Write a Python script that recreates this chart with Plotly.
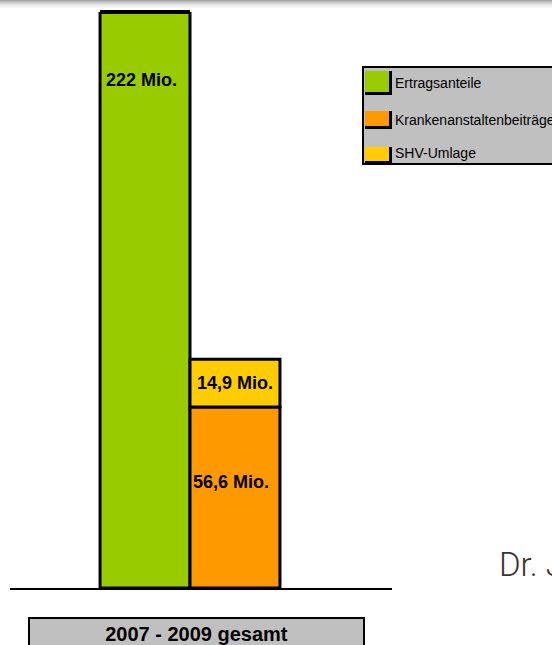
import plotly.graph_objects as go

categories = ["2007 - 2009 gesamt"]
series_names = ["Ertragsanteile", "Krankenanstaltenbeiträge", "SHV-Umlage"]
ertragsanteile = [222.0]
krankenanstalten = [56.6]
shv_umlage = [14.9]
labels_ertrag = ["222 Mio."]
labels_kranken = ["56,6 Mio."]
labels_shv = ["14,9 Mio."]
footer_text = "Dr. J"

colors = ["#99cc00", "#ff9900", "#ffcc00"]
W, H = 552, 645
ML, MR, MT, MB = 10, 160, 12, 57
PW, PH = W - ML - MR, H - MT - MB


def px(xf):
    return (xf - ML) / PW


def py(yf):
    return (H - MB - yf) / PH


bargap = 0.529
label_font = dict(family="Liberation Sans, Arial", size=18, color="black", weight="bold")

fig = go.Figure()
fig.add_trace(go.Bar(
    x=categories, y=ertragsanteile, name=series_names[0], offsetgroup="a",
    marker=dict(color=colors[0], line=dict(color="black", width=3)),
))
fig.add_trace(go.Bar(
    x=categories, y=krankenanstalten, name=series_names[1], offsetgroup="b",
    marker=dict(color=colors[1], line=dict(color="black", width=3)),
))
fig.add_trace(go.Bar(
    x=categories, y=shv_umlage, base=krankenanstalten, name=series_names[2], offsetgroup="b",
    marker=dict(color=colors[2], line=dict(color="black", width=3)),
    text=labels_shv, textposition="inside", insidetextanchor="middle",
    textfont=label_font, textangle=0,
))

shapes = []
# faint grey shade along the top edge of the page
shade = ["#a8a8a8", "#b8b8b8", "#c8c8c8", "#d6d6d6", "#e2e2e2", "#ececec", "#f4f4f4", "#fafafa"]
for i, c in enumerate(shade):
    shapes.append(dict(type="rect", xref="paper", yref="paper", layer="below",
                       x0=px(-5), x1=px(560), y0=py(i + 1), y1=py(i),
                       fillcolor=c, line=dict(width=0)))

# top edge of the clipped tall bar
half = (1 - bargap) / 2
shapes.append(dict(type="line", xref="x", yref="paper", x0=-half, x1=0, y0=1, y1=1,
                   line=dict(color="black", width=4)))

annotations = []
annotations.append(dict(x=px(141), xref="paper", xanchor="center",
                        y=py(80), yref="paper", yanchor="middle",
                        text=labels_ertrag[0], showarrow=False, font=label_font))
annotations.append(dict(x=px(231), xref="paper", xanchor="center",
                        y=py(482), yref="paper", yanchor="middle",
                        text=labels_kranken[0], showarrow=False, font=label_font))

# category label box below the axis
annotations.append(dict(
    x=px(196.5), xref="paper", xanchor="center", y=py(617), yref="paper", yanchor="top",
    text=categories[0], showarrow=False,
    font=dict(family="Liberation Sans, Arial", size=20, color="black", weight="bold"),
    bgcolor="#c0c0c0", bordercolor="black", borderwidth=2, borderpad=1,
    width=331, height=28,
))

# hand-drawn legend (large swatches as in the reference)
shapes.append(dict(type="rect", xref="paper", yref="paper",
                   x0=px(363), x1=px(570), y0=py(164), y1=py(67),
                   fillcolor="#c0c0c0", line=dict(color="black", width=2)))
swatches = [(71, 92), (111, 126), (147, 161)]
text_y = [83, 120, 153]
for i, (y0, y1) in enumerate(swatches):
    shapes.append(dict(type="rect", xref="paper", yref="paper",
                       x0=px(365), x1=px(392), y0=py(y1 + 3), y1=py(y0),
                       fillcolor="black", line=dict(width=0)))
    shapes.append(dict(type="rect", xref="paper", yref="paper",
                       x0=px(365), x1=px(389), y0=py(y1), y1=py(y0),
                       fillcolor=colors[i], line=dict(width=0)))
    annotations.append(dict(x=px(393), xref="paper", xanchor="left",
                            y=py(text_y[i]), yref="paper", yanchor="middle",
                            text=series_names[i], showarrow=False,
                            font=dict(family="Liberation Sans, Arial", size=14, color="black")))

# footer text at lower right
annotations.append(dict(
    x=px(497), xref="paper", xanchor="left", y=py(586), yref="paper", yanchor="bottom",
    text=footer_text, showarrow=False,
    font=dict(family="Roboto", size=33, color="#333333", weight=300),
))

fig.update_layout(
    width=W, height=H,
    margin=dict(l=ML, r=MR, t=MT, b=MB),
    paper_bgcolor="white", plot_bgcolor="white",
    barmode="group", bargap=bargap, bargroupgap=0,
    showlegend=False, hovermode=False,
    shapes=shapes, annotations=annotations,
    xaxis=dict(
        range=[-0.4712, 0.5288], showticklabels=False, ticks="",
        showline=True, linecolor="black", linewidth=2, showgrid=False, zeroline=False,
    ),
    yaxis=dict(range=[0, 180], visible=False, showgrid=False, zeroline=False),
    uniformtext=dict(mode="show", minsize=14),
)

fig.write_html(
    "out.html",
    config={"displayModeBar": False},
    post_script="document.body.style.margin='0';document.body.style.overflow='hidden';",
)
